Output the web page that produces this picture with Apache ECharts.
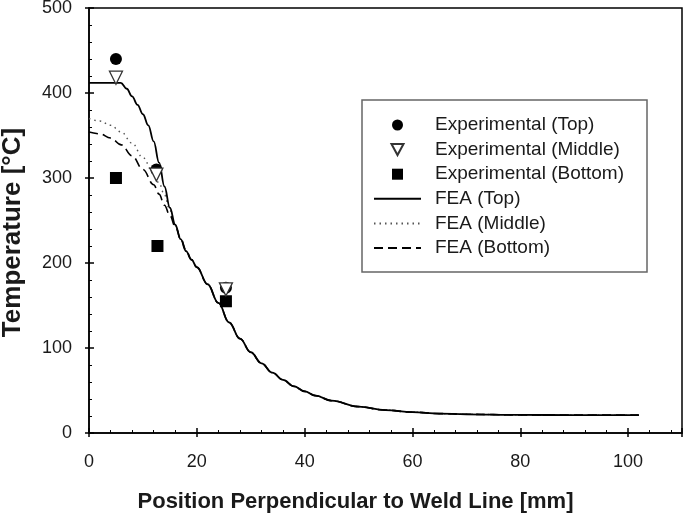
<!DOCTYPE html>
<html>
<head>
<meta charset="utf-8">
<script src="https://cdn.jsdelivr.net/npm/echarts@6/dist/echarts.min.js"></script>
<style>
  html, body { margin: 0; padding: 0; background: #fff; }
  #chart { width: 685px; height: 517px; }
</style>
</head>
<body>
<div id="chart"></div>
<script>
// measured points (x in mm, temperature in °C)
const expTop = [[5, 440], [12.5, 310], [25.4, 171]];
const expMiddle = [[5, 418], [12.5, 304], [25.4, 169]];
const expBottom = [[5, 300], [12.7, 220], [25.4, 155]];

// FEA curves (the three merge past ~19 mm)
const feaTail = [[20, 195], [22, 175], [24, 153], [26, 130], [28, 111], [30, 95], [32, 82], [34, 71],
  [36, 62.5], [38, 55], [40, 49], [42, 44], [45, 38], [50, 31], [55, 27], [60, 24.5], [65, 22.8],
  [70, 22], [80, 21.3], [90, 21], [102, 21]];
const feaTop = [[0, 412], [5.9, 412], [7, 405], [8, 396], [9, 386], [10, 375], [11, 362], [12, 343],
  [13, 318], [14, 290], [15, 265], [16, 245], [17, 228], [18, 214], [19, 204]].concat(feaTail);
const feaMiddle = [[0, 370], [2, 367], [4, 362], [6, 354], [8, 341], [10, 324], [12, 305], [13, 294],
  [14, 280], [15, 262], [16, 244], [17, 228], [18, 214], [19, 204]].concat(feaTail);
const feaBottom = [[0, 354], [2, 352], [4, 347], [6, 339], [8, 326], [10, 310], [12, 292], [13, 281],
  [14, 268], [15, 256], [16, 243], [17, 229], [18, 215], [19, 204]].concat(feaTail);

const FONT = 'Liberation Sans, Arial, sans-serif';
const TXT = '#1a1a1a';

const chart = echarts.init(document.getElementById('chart'));

function lineSeries(name, data, type, color, width, z) {
  return {
    name: name,
    type: 'line',
    data: data,
    symbol: 'none',
    smooth: 0.4,
    smoothMonotone: 'x',
    lineStyle: { color: color, width: width, type: type },
    itemStyle: { color: color },
    z: z
  };
}

// legend entries: no marker on the line samples
const hideMarker = { opacity: 0 };

const option = {
  backgroundColor: '#fff',
  animation: false,
  grid: {
    left: 89, right: 3, top: 8, bottom: 84,
    outerBoundsMode: 'none',
    containLabel: false,
    show: true, borderColor: '#000', borderWidth: 1.5
  },
  legend: {
    orient: 'vertical',
    left: 362,
    top: 100,
    padding: [15, 23, 14, 11],
    borderColor: '#666',
    borderWidth: 1.5,
    itemWidth: 47,
    itemHeight: 11,
    itemGap: 4.6,
    symbolKeepAspect: true,
    textStyle: { fontFamily: FONT, fontSize: 19, color: TXT, lineHeight: 20, padding: [0, 0, 0, 9] },
    data: [
      { name: 'Experimental (Top)', icon: 'circle' },
      { name: 'Experimental (Middle)', icon: 'path://M0,0L12,0L6,11Z' },
      { name: 'Experimental (Bottom)', icon: 'path://M0,0L10,0L10,10L0,10Z' },
      { name: 'FEA (Top)', itemStyle: hideMarker },
      { name: 'FEA (Middle)', itemStyle: hideMarker },
      { name: 'FEA (Bottom)', itemStyle: hideMarker }
    ]
  },
  xAxis: [
    {
      type: 'value', min: 0, max: 110, interval: 20,
      name: 'Position Perpendicular to Weld Line [mm]',
      nameLocation: 'middle', nameGap: 58,
      nameTextStyle: { fontFamily: FONT, fontSize: 22, fontWeight: 'bold', color: TXT, padding: [0, 60, 0, 0] },
      axisLine: { show: true, lineStyle: { color: '#000', width: 1.5 } },
      axisTick: { show: true, inside: true, length: 5, lineStyle: { color: '#000', width: 1.5 } },
      minorTick: { show: true, splitNumber: 5, length: 3, lineStyle: { color: '#000', width: 1 } },
      axisLabel: { fontFamily: FONT, fontSize: 18, color: TXT, margin: 20,
        formatter: v => (v > 100 ? '' : String(v)) },
      splitLine: { show: false }
    },
    {
      type: 'value', min: 0, max: 110, interval: 20, position: 'bottom',
      axisLine: { show: false },
      axisTick: { show: true, inside: false, length: 4, lineStyle: { color: '#000', width: 1.5 } },
      axisLabel: { show: false },
      splitLine: { show: false }
    }
  ],
  yAxis: [
    {
      type: 'value', min: 0, max: 500, interval: 100,
      name: 'Temperature [°C]',
      nameLocation: 'middle', nameGap: 63,
      nameTextStyle: { fontFamily: FONT, fontSize: 26, fontWeight: 'bold', color: TXT, padding: [0, 24, 0, 0] },
      axisLine: { show: true, lineStyle: { color: '#000', width: 1.5 } },
      axisTick: { show: true, inside: true, length: 5, lineStyle: { color: '#000', width: 1.5 } },
      minorTick: { show: true, splitNumber: 5, length: 3, lineStyle: { color: '#000', width: 1 } },
      axisLabel: { fontFamily: FONT, fontSize: 18, color: TXT, margin: 17 },
      splitLine: { show: false }
    },
    {
      type: 'value', min: 0, max: 500, interval: 100, position: 'left',
      axisLine: { show: false },
      axisTick: { show: true, inside: false, length: 4, lineStyle: { color: '#000', width: 1.5 } },
      axisLabel: { show: false },
      splitLine: { show: false }
    }
  ],
  series: [
    {
      name: 'Experimental (Top)', type: 'scatter', data: expTop,
      symbol: 'circle', symbolSize: 12, symbolKeepAspect: true,
      itemStyle: { color: '#000', opacity: 1 }, z: 4
    },
    {
      name: 'Experimental (Middle)', type: 'scatter', data: expMiddle,
      symbol: 'triangle', symbolSize: 13, symbolRotate: 180, symbolKeepAspect: true,
      itemStyle: { color: '#fff', borderColor: '#333', borderWidth: 1.3, opacity: 1 }, z: 5
    },
    {
      name: 'Experimental (Bottom)', type: 'scatter', data: expBottom,
      symbol: 'rect', symbolSize: 12, symbolKeepAspect: true,
      itemStyle: { color: '#000', opacity: 1 }, z: 4
    },
    lineSeries('FEA (Top)', feaTop, 'solid', '#000', 1.8, 3),
    lineSeries('FEA (Middle)', feaMiddle, [1.5, 4], '#555', 1.4, 2),
    lineSeries('FEA (Bottom)', feaBottom, [9, 5], '#000', 1.6, 2)
  ]
};

chart.setOption(option);
</script>
</body>
</html>
